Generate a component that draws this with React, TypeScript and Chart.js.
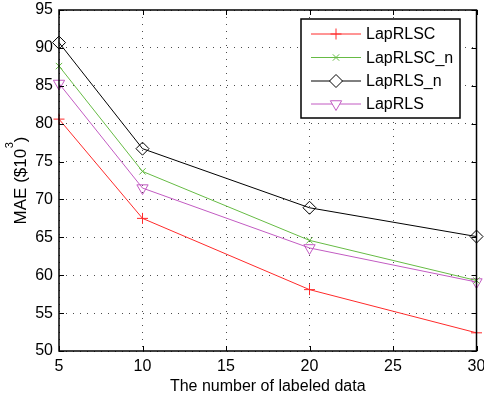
import React, { useEffect, useRef } from "react";
import { Chart, registerables } from "chart.js";
import { drawPoint } from "chart.js/helpers";

Chart.register(...registerables);

// ---- data ----
const xValues = [5, 10, 20, 30];
const lapRLSC = [80.6, 67.5, 58.1, 52.4];
const lapRLSCn = [87.6, 73.7, 64.6, 59.3];
const lapRLSn = [90.7, 76.7, 68.9, 65.1];
const lapRLS = [85.3, 71.5, 63.6, 59.1];
const seriesNames = ["LapRLSC", "LapRLSC_n", "LapRLS_n", "LapRLS"];
const xTickValues = [5, 10, 15, 20, 25, 30];
const yTickValues = [50, 55, 60, 65, 70, 75, 80, 85, 90, 95];
const xTitle = "The number of labeled data";
const yTitleMain = "MAE ($10";
const yTitleSup = "3";
const yTitleEnd = ")";

const FONT = "'Liberation Sans', Arial, Helvetica, sans-serif";

const styles = [
  { color: "#ff2a2a", pointStyle: "cross", radius: 5.5, rotation: 0 },
  { color: "#66bb44", pointStyle: "crossRot", radius: 4.5, rotation: 0 },
  { color: "#000000", pointStyle: "rectRot", radius: 6.5, rotation: 0 },
  { color: "#c25bc2", pointStyle: "triangle", radius: 6.5, rotation: 180 },
];

const allSeries = [lapRLSC, lapRLSCn, lapRLSn, lapRLS];

const framePlugin = {
  id: "frame",
  afterDraw(chart: any) {
    const ctx = chart.ctx;
    const { left, right, top, bottom } = chart.chartArea;
    const xs = chart.scales.x;
    const ys = chart.scales.y;
    ctx.save();
    ctx.strokeStyle = "#000";
    ctx.lineWidth = 1;
    ctx.setLineDash([]);
    ctx.beginPath();
    const tl = 5;
    xTickValues.forEach((v) => {
      const px = Math.round(xs.getPixelForValue(v)) + 0.5;
      ctx.moveTo(px, bottom);
      ctx.lineTo(px, bottom - tl);
      ctx.moveTo(px, top);
      ctx.lineTo(px, top + tl);
    });
    yTickValues.forEach((v) => {
      const py = Math.round(ys.getPixelForValue(v)) + 0.5;
      ctx.moveTo(left, py);
      ctx.lineTo(left + tl, py);
      ctx.moveTo(right, py);
      ctx.lineTo(right - tl, py);
    });
    ctx.stroke();
    ctx.lineWidth = 1.5;
    ctx.strokeRect(left, top, right - left, bottom - top);

    // legend
    const bx = 301, by = 19, bw = 159, bh = 99;
    ctx.fillStyle = "#fff";
    ctx.fillRect(bx, by, bw, bh);
    ctx.lineWidth = 1.5;
    ctx.strokeStyle = "#000";
    ctx.strokeRect(bx, by, bw, bh);
    const rowY = [34, 57.5, 81, 104];
    ctx.font = `16px ${FONT}`;
    ctx.textBaseline = "middle";
    ctx.textAlign = "left";
    seriesNames.forEach((name, i) => {
      const s = styles[i];
      const y = rowY[i];
      ctx.strokeStyle = s.color;
      ctx.lineWidth = 1;
      ctx.beginPath();
      ctx.moveTo(311, y);
      ctx.lineTo(361, y);
      ctx.stroke();
      ctx.fillStyle = "#fff";
      drawPoint(ctx, { pointStyle: s.pointStyle, rotation: s.rotation, radius: s.radius, borderWidth: 1 } as any, 336, y);
      ctx.fillStyle = "#000";
      ctx.fillText(name, 366, y + 1);
    });

    // y-axis title with superscript
    ctx.save();
    ctx.translate(26, (top + bottom) / 2);
    ctx.rotate(-Math.PI / 2);
    ctx.fillStyle = "#000";
    ctx.textBaseline = "alphabetic";
    const mainFont = `17px ${FONT}`;
    const supFont = `11px ${FONT}`;
    ctx.font = mainFont;
    const w1 = ctx.measureText(yTitleMain).width;
    const w3 = ctx.measureText(yTitleEnd).width;
    ctx.font = supFont;
    const w2 = ctx.measureText(yTitleSup).width;
    const total = w1 + w2 + w3 + 0.5;
    let x0 = -total / 2;
    ctx.font = mainFont;
    ctx.fillText(yTitleMain, x0, 0);
    x0 += w1 + 0.5;
    ctx.font = supFont;
    ctx.fillText(yTitleSup, x0, -13);
    x0 += w2;
    ctx.font = mainFont;
    ctx.fillText(yTitleEnd, x0, 0);
    ctx.restore();

    ctx.restore();
  },
};

export default function App() {
  const ref = useRef<HTMLCanvasElement | null>(null);
  useEffect(() => {
    if (!ref.current) return;
    const datasets = allSeries.map((vals, i) => ({
      label: seriesNames[i],
      data: xValues.map((x, j) => ({ x, y: vals[j] })),
      borderColor: styles[i].color,
      backgroundColor: "rgba(0,0,0,0)",
      pointBorderColor: styles[i].color,
      pointBackgroundColor: "rgba(0,0,0,0)",
      pointStyle: styles[i].pointStyle,
      pointRotation: styles[i].rotation,
      pointRadius: styles[i].radius,
      pointHoverRadius: styles[i].radius,
      pointBorderWidth: 1,
      borderWidth: 1,
      tension: 0,
      fill: false,
      clip: false,
    }));
    const chart = new Chart(ref.current, {
      type: "line",
      data: { datasets },
      options: {
        animation: false,
        responsive: false,
        devicePixelRatio: 1,
        layout: { padding: { top: 10, right: 7, left: 0, bottom: 0 } },
        plugins: { legend: { display: false }, tooltip: { enabled: false } },
        scales: {
          x: {
            type: "linear",
            min: 5,
            max: 30,
            afterBuildTicks: (s: any) => {
              s.ticks = xTickValues.map((v) => ({ value: v }));
            },
            afterFit: (s: any) => {
              s.height = 48;
              s.paddingLeft = 0;
              s.paddingRight = 0;
            },
            grid: { color: "rgba(0,0,0,0.7)", lineWidth: 1, drawTicks: false },
            border: { display: false, dash: [1, 6] },
            ticks: {
              color: "#000",
              padding: 6,
              maxRotation: 0,
              font: { family: FONT, size: 16 },
            },
            title: {
              display: true,
              text: xTitle,
              color: "#000",
              font: { family: FONT, size: 16 },
              padding: { top: 0, bottom: 3 },
            },
          },
          y: {
            type: "linear",
            min: 50,
            max: 95,
            afterBuildTicks: (s: any) => {
              s.ticks = yTickValues.map((v) => ({ value: v }));
            },
            afterFit: (s: any) => {
              s.width = 59;
              s.paddingTop = 0;
              s.paddingBottom = 0;
            },
            grid: { color: "rgba(0,0,0,0.7)", lineWidth: 1, drawTicks: false },
            border: { display: false, dash: [1, 6] },
            ticks: {
              color: "#000",
              padding: 6,
              font: { family: FONT, size: 16 },
            },
          },
        },
      },
      plugins: [framePlugin],
    } as any);
    return () => chart.destroy();
  }, []);
  return (
    <div style={{ position: "absolute", left: 0, top: 0, width: 484, height: 399, background: "#fff" }}>
      <canvas ref={ref} width={484} height={399} style={{ display: "block" }} />
    </div>
  );
}
